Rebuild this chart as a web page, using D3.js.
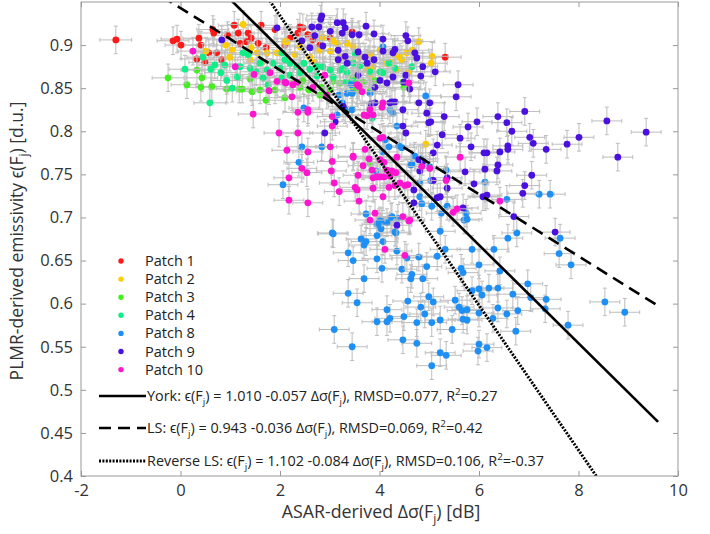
<!DOCTYPE html>
<html><head><meta charset="utf-8">
<script src="https://cdn.jsdelivr.net/npm/d3@7"></script>
<style>body{margin:0;background:#fff}</style></head>
<body><svg id="c" width="710" height="534"></svg>
<script>
const patchNames = ["Patch 1","Patch 2","Patch 3","Patch 4","Patch 8","Patch 9","Patch 10"];
const patchColors = ["#ff1a1a","#ffcc00","#44ee22","#11ee88","#1e90f5","#4a10e0","#ff14d0"];
const patchErrX = [0.32,0.32,0.32,0.32,0.3,0.3,0.3];
const patchErrY = [0.016,0.016,0.016,0.016,0.016,0.016,0.016];

const patch1 = [[-1.30,0.906],[-0.15,0.905],[-0.07,0.907],[0.01,0.900],[0.37,0.908],[0.41,0.900],[0.33,0.884],[0.65,0.918],[0.67,0.914],[1.08,0.923],[1.16,0.914],[1.36,0.914],[1.42,0.908],[1.62,0.923],[1.56,0.902],[1.32,0.904],[1.20,0.902],[0.57,0.891],[0.73,0.891],[2.40,0.921],[2.46,0.920],[2.36,0.914],[2.66,0.906],[2.56,0.912],[3.45,0.915],[5.32,0.886],[0.95,0.911],[1.72,0.897],[2.10,0.900],[2.20,0.908],[1.90,0.918],[0.83,0.883],[0.49,0.880],[2.80,0.900],[3.01,0.908]];
const patch2 = [[1.26,0.924],[0.91,0.900],[0.51,0.893],[1.04,0.894],[0.99,0.886],[1.40,0.883],[1.54,0.891],[1.74,0.891],[1.94,0.891],[2.14,0.904],[1.42,0.897],[2.86,0.909],[3.07,0.905],[3.01,0.893],[3.35,0.902],[3.47,0.898],[3.61,0.886],[3.81,0.889],[4.01,0.894],[4.31,0.889],[4.35,0.871],[4.45,0.883],[4.55,0.891],[3.75,0.871],[3.81,0.865],[2.40,0.898],[2.10,0.904],[2.60,0.886],[2.80,0.894],[3.87,0.875],[3.47,0.880],[4.15,0.879],[4.79,0.904],[4.67,0.894],[5.06,0.887],[5.04,0.879],[4.23,0.880],[4.41,0.886],[4.59,0.869],[4.93,0.785],[3.15,0.902],[2.30,0.889],[3.21,0.885],[2.70,0.880],[1.64,0.880]];
const patch3 = [[-0.25,0.862],[0.13,0.854],[0.33,0.871],[0.41,0.851],[0.43,0.862],[0.63,0.852],[0.93,0.849],[1.18,0.849],[1.24,0.849],[1.40,0.861],[1.60,0.848],[1.72,0.836],[1.90,0.848],[2.10,0.839],[2.26,0.856],[2.46,0.859],[2.58,0.848],[3.07,0.858],[3.21,0.856],[3.47,0.862],[3.57,0.856],[3.67,0.857],[4.47,0.857],[3.01,0.848],[2.40,0.851],[2.84,0.851],[3.47,0.850],[3.55,0.848],[3.91,0.859],[4.49,0.851],[3.81,0.846],[3.81,0.763],[1.44,0.846],[2.80,0.842]];
const patch4 = [[0.09,0.872],[0.45,0.886],[0.61,0.872],[0.81,0.868],[0.93,0.859],[1.04,0.850],[1.14,0.863],[1.26,0.891],[1.36,0.889],[1.60,0.879],[1.74,0.871],[1.86,0.879],[2.00,0.873],[0.69,0.877],[0.89,0.877],[0.59,0.833],[1.20,0.875],[1.40,0.873],[1.66,0.862],[2.04,0.862],[2.04,0.891],[2.10,0.883],[2.20,0.879],[2.34,0.875],[2.48,0.879],[2.60,0.872],[2.74,0.875],[2.86,0.875],[2.74,0.864],[3.21,0.871],[3.51,0.890],[3.81,0.869],[4.01,0.869],[3.45,0.858],[3.35,0.868],[4.07,0.868],[4.19,0.879],[4.65,0.875],[3.47,0.879],[3.27,0.873],[3.07,0.863],[3.33,0.857],[3.85,0.815],[1.52,0.869],[1.76,0.854],[2.20,0.865],[2.40,0.868],[3.01,0.871],[3.61,0.876],[4.31,0.873]];
const patch8 = [[2.06,0.738],[2.44,0.782],[2.38,0.764],[2.84,0.782],[2.48,0.827],[3.15,0.819],[3.35,0.844],[3.45,0.844],[3.81,0.844],[4.21,0.825],[3.45,0.825],[3.25,0.833],[4.07,0.898],[3.43,0.854],[3.19,0.842],[3.31,0.825],[4.93,0.841],[6.12,0.741],[6.12,0.724],[7.21,0.727],[7.43,0.727],[5.01,0.759],[4.63,0.761],[4.83,0.768],[4.39,0.783],[4.11,0.790],[4.35,0.806],[6.56,0.721],[5.34,0.755],[5.03,0.743],[4.81,0.724],[4.85,0.716],[5.05,0.713],[5.36,0.713],[5.74,0.705],[5.76,0.698],[5.24,0.705],[4.65,0.762],[4.71,0.771],[4.45,0.781],[4.19,0.782],[4.27,0.821],[4.15,0.694],[4.25,0.701],[4.01,0.696],[4.37,0.699],[4.07,0.776],[4.81,0.740],[3.95,0.692],[4.05,0.695],[3.73,0.704],[3.93,0.754],[4.07,0.764],[3.07,0.681],[3.37,0.659],[3.47,0.650],[3.63,0.675],[3.69,0.668],[3.73,0.672],[3.95,0.679],[4.03,0.687],[4.07,0.672],[4.33,0.682],[4.35,0.661],[3.95,0.652],[4.05,0.641],[4.45,0.640],[4.55,0.653],[4.65,0.634],[4.63,0.629],[4.79,0.654],[4.95,0.643],[4.87,0.629],[5.16,0.655],[5.22,0.684],[5.32,0.663],[5.70,0.697],[5.64,0.641],[5.68,0.636],[5.86,0.663],[6.00,0.645],[6.30,0.663],[6.42,0.638],[5.86,0.615],[6.00,0.617],[6.06,0.610],[6.20,0.618],[6.38,0.618],[6.68,0.611],[6.98,0.623],[7.04,0.607],[7.35,0.605],[6.58,0.676],[6.76,0.682],[7.61,0.658],[3.69,0.629],[3.37,0.612],[3.55,0.601],[4.57,0.603],[4.99,0.608],[5.08,0.602],[4.83,0.596],[4.91,0.588],[4.15,0.593],[4.21,0.583],[3.95,0.579],[4.15,0.579],[4.49,0.585],[4.75,0.578],[5.05,0.578],[5.22,0.581],[5.52,0.604],[5.60,0.596],[5.66,0.592],[5.76,0.593],[5.68,0.582],[5.76,0.581],[6.00,0.589],[6.28,0.583],[6.38,0.595],[6.56,0.588],[6.78,0.592],[3.09,0.570],[3.45,0.550],[4.47,0.558],[4.75,0.554],[5.46,0.570],[6.00,0.553],[6.16,0.549],[5.98,0.545],[5.22,0.543],[5.34,0.540],[5.05,0.528],[6.74,0.568],[7.79,0.575],[4.23,0.700],[3.05,0.682],[7.63,0.676],[7.85,0.645],[7.33,0.594],[8.53,0.602],[8.93,0.590],[3.99,0.694],[4.31,0.683]];
const patch9 = [[2.84,0.934],[2.82,0.930],[2.64,0.921],[2.78,0.921],[3.01,0.916],[3.15,0.926],[3.27,0.926],[3.31,0.920],[3.25,0.914],[3.45,0.912],[3.59,0.912],[3.73,0.922],[3.89,0.913],[4.07,0.907],[4.53,0.911],[4.57,0.905],[2.86,0.899],[3.17,0.894],[3.17,0.883],[3.35,0.879],[3.31,0.887],[3.57,0.892],[3.71,0.886],[3.75,0.879],[3.89,0.883],[4.07,0.893],[4.27,0.891],[4.31,0.895],[4.71,0.891],[4.75,0.885],[3.57,0.865],[4.01,0.859],[4.15,0.856],[4.27,0.863],[2.44,0.905],[2.60,0.897],[2.70,0.911],[3.91,0.851],[4.53,0.865],[4.49,0.857],[4.25,0.834],[4.31,0.834],[4.47,0.825],[0.83,0.906],[1.94,0.920],[4.87,0.875],[5.12,0.869],[5.58,0.854],[5.54,0.840],[4.83,0.864],[4.61,0.849],[4.21,0.833],[4.79,0.833],[4.95,0.821],[5.30,0.817],[4.99,0.810],[4.47,0.806],[4.53,0.798],[5.78,0.805],[5.96,0.811],[6.38,0.817],[6.56,0.810],[6.92,0.823],[6.66,0.800],[7.02,0.793],[7.09,0.786],[8.01,0.793],[7.77,0.785],[7.35,0.779],[6.58,0.783],[6.58,0.779],[6.42,0.776],[6.16,0.775],[6.10,0.775],[5.84,0.782],[5.62,0.792],[5.26,0.796],[5.16,0.784],[5.08,0.775],[8.57,0.812],[9.36,0.799],[8.79,0.770],[7.06,0.749],[6.92,0.737],[6.38,0.761],[6.12,0.756],[5.72,0.753],[6.88,0.728],[6.08,0.724],[5.36,0.734],[5.08,0.743],[4.81,0.754],[5.90,0.739],[5.03,0.811],[5.01,0.833],[6.36,0.754],[6.16,0.726],[6.70,0.701],[5.36,0.746],[4.69,0.732],[4.87,0.765],[5.16,0.723],[5.22,0.724],[4.69,0.717],[5.68,0.711],[4.79,0.767],[2.90,0.798],[3.11,0.811],[3.27,0.829],[3.83,0.832],[3.91,0.833],[4.35,0.691],[7.53,0.683]];
const patch10 = [[0.25,0.893],[1.10,0.875],[1.48,0.866],[1.80,0.868],[1.94,0.858],[1.78,0.847],[2.12,0.856],[1.46,0.820],[2.10,0.857],[2.26,0.854],[2.66,0.851],[2.34,0.857],[2.90,0.865],[3.55,0.854],[3.59,0.852],[2.24,0.840],[2.56,0.825],[2.36,0.822],[2.94,0.842],[3.05,0.817],[3.81,0.825],[3.75,0.818],[3.65,0.846],[4.59,0.856],[4.05,0.828],[4.01,0.792],[4.35,0.770],[5.62,0.770],[5.34,0.743],[5.01,0.757],[4.09,0.764],[3.01,0.782],[3.47,0.770],[3.85,0.755],[4.57,0.738],[4.33,0.752],[4.85,0.759],[6.42,0.719],[5.56,0.710],[5.48,0.706],[4.47,0.701],[4.61,0.697],[4.01,0.767],[4.15,0.755],[4.25,0.754],[4.21,0.748],[4.41,0.740],[4.51,0.737],[4.31,0.737],[4.07,0.724],[4.01,0.747],[4.07,0.793],[4.07,0.833],[1.98,0.798],[2.36,0.798],[2.14,0.778],[2.56,0.776],[2.44,0.757],[2.54,0.752],[2.18,0.746],[2.18,0.720],[2.56,0.717],[3.03,0.754],[3.05,0.765],[3.09,0.740],[3.19,0.730],[3.47,0.771],[3.67,0.760],[3.57,0.749],[3.51,0.735],[3.55,0.732],[3.59,0.719],[3.79,0.768],[3.87,0.746],[3.95,0.747],[3.87,0.734],[4.09,0.747],[3.87,0.819],[3.69,0.819],[3.71,0.779],[3.05,0.806],[2.56,0.822],[3.81,0.697],[4.19,0.735],[3.91,0.705],[4.11,0.663],[4.59,0.696],[4.51,0.656]];
const patchData = [patch1, patch2, patch3, patch4, patch8, patch9, patch10];

const xTicks = [-2,0,2,4,6,8,10];
const yTicks = [0.4,0.45,0.5,0.55,0.6,0.65,0.7,0.75,0.8,0.85,0.9];
const xDomain = [-2,10];
const yDomain = [0.4,0.95];

const fitNames = ["York","LS","Reverse LS"];
const fitIntercepts = [1.010,0.943,1.102];
const fitSlopes = [-0.057,-0.036,-0.084];
const fitXEnds = [9.6,9.6,8.5];
const fitLabels = [
  [["York: ϵ(F",0],["j",-1],[") = 1.010 -0.057 Δσ(F",0],["j",-1],["), RMSD=0.077, R",0],["2",1],["=0.27",0]],
  [["LS: ϵ(F",0],["j",-1],[") = 0.943 -0.036 Δσ(F",0],["j",-1],["), RMSD=0.069, R",0],["2",1],["=0.42",0]],
  [["Reverse LS: ϵ(F",0],["j",-1],[") = 1.102 -0.084 Δσ(F",0],["j",-1],["), RMSD=0.106, R",0],["2",1],["=-0.37",0]]
];

const FONT = "'Open Sans', sans-serif";
const TXT = "#333";
const L = 81, R = 678, T = 2, B = 476;
const svg = d3.select("#c");
const x = d3.scaleLinear().domain(xDomain).range([L,R]);
const y = d3.scaleLinear().domain(yDomain).range([B,T]);

svg.append("defs").append("clipPath").attr("id","clip")
  .append("rect").attr("x",L).attr("y",T).attr("width",R-L).attr("height",B-T);

const plot = svg.append("g").attr("clip-path","url(#clip)");

// points with error bars
patchData.forEach((pts,i)=>{
  const g = plot.append("g");
  const ex = patchErrX[i], ey = patchErrY[i];
  const eb = g.append("g").attr("stroke","#bdbdbd").attr("stroke-width",1).attr("fill","none");
  pts.forEach(d=>{
    const cx = x(d[0]), cy = y(d[1]);
    const x0 = x(d[0]-ex), x1 = x(d[0]+ex), y0 = y(d[1]-ey), y1 = y(d[1]+ey);
    eb.append("path").attr("d",
      `M${x0},${cy}H${x1}M${x0},${cy-2}V${cy+2}M${x1},${cy-2}V${cy+2}`+
      `M${cx},${y0}V${y1}M${cx-2},${y0}H${cx+2}M${cx-2},${y1}H${cx+2}`);
  });
  g.append("g").selectAll("circle").data(pts).join("circle")
    .attr("cx",d=>x(d[0])).attr("cy",d=>y(d[1])).attr("r",3.4)
    .attr("fill",patchColors[i]);
});

// fit lines
const dashes = [null,"12,7","2,1.4"];
const widths = [2.6,2.6,3];
fitNames.forEach((n,i)=>{
  const xs = [xDomain[0], fitXEnds[i]];
  plot.append("line")
    .attr("x1",x(xs[0])).attr("y1",y(fitIntercepts[i]+fitSlopes[i]*xs[0]))
    .attr("x2",x(xs[1])).attr("y2",y(fitIntercepts[i]+fitSlopes[i]*xs[1]))
    .attr("stroke","#000").attr("stroke-width",widths[i])
    .attr("stroke-dasharray",dashes[i]);
});

// axes
function styleAxis(g){
  g.select(".domain").remove();
  g.selectAll(".tick line").attr("stroke","#999");
  g.selectAll(".tick text").attr("fill",TXT).attr("font-family",FONT).attr("font-size",16.5);
}
svg.append("g").attr("transform",`translate(0,${B})`)
  .call(d3.axisBottom(x).tickValues(xTicks).tickFormat(d=>String(d)).tickSizeInner(-5).tickSizeOuter(0).tickPadding(8))
  .call(styleAxis);
svg.append("g").attr("transform",`translate(0,${T})`)
  .call(d3.axisTop(x).tickValues(xTicks).tickFormat("").tickSizeInner(-5).tickSizeOuter(0))
  .call(styleAxis);
svg.append("g").attr("transform",`translate(${L},0)`)
  .call(d3.axisLeft(y).tickValues(yTicks).tickFormat(d=>String(+d.toFixed(2))).tickSizeInner(-5).tickSizeOuter(0).tickPadding(8))
  .call(styleAxis);
svg.append("g").attr("transform",`translate(${R},0)`)
  .call(d3.axisRight(y).tickValues(yTicks).tickFormat("").tickSizeInner(-5).tickSizeOuter(0))
  .call(styleAxis);

svg.append("rect").attr("x",L).attr("y",T).attr("width",R-L).attr("height",B-T)
  .attr("fill","none").attr("stroke","#999").attr("stroke-width",1);

// rich text helper
function rich(t, parts, fs){
  let shift = 0;
  parts.forEach(p=>{
    const target = p[1]===-1 ? fs*0.3 : (p[1]===1 ? -fs*0.4 : 0);
    t.append("tspan").attr("dy",target-shift)
      .attr("font-size", p[1]===0 ? fs : fs*0.68).text(p[0]);
    shift = target;
  });
}

// legend: patches
const legX = 121, legY0 = 261, legDY = 18.1;
patchNames.forEach((n,i)=>{
  svg.append("circle").attr("cx",legX).attr("cy",legY0+i*legDY).attr("r",2.7).attr("fill",patchColors[i]);
  svg.append("text").attr("x",145).attr("y",legY0+i*legDY).attr("dy","0.35em")
    .attr("font-family",FONT).attr("font-size",14.5).attr("fill","#222").text(n);
});
// legend: lines
const lineY = [396,428,461];
fitNames.forEach((n,i)=>{
  svg.append("line").attr("x1",99).attr("x2",146).attr("y1",lineY[i]).attr("y2",lineY[i])
    .attr("stroke","#000").attr("stroke-width",widths[i]).attr("stroke-dasharray",dashes[i]);
  const t = svg.append("text").attr("x",147).attr("y",lineY[i]+5)
    .attr("font-family",FONT).attr("font-size",14.4).attr("fill","#222");
  rich(t, fitLabels[i], 14.4);
});

// axis titles
const xt = svg.append("text").attr("x",381).attr("y",518).attr("text-anchor","middle")
  .attr("font-family",FONT).attr("font-size",17.8).attr("fill",TXT);
rich(xt, [["ASAR-derived Δσ(F",0],["j",-1],[") [dB]",0]], 17.8);
const yt = svg.append("text").attr("transform","translate(23,241) rotate(-90)").attr("text-anchor","middle")
  .attr("font-family",FONT).attr("font-size",17.5).attr("fill",TXT);
rich(yt, [["PLMR-derived emissivity ϵ(F",0],["j",-1],[") [d.u.]",0]], 17.5);
</script></body></html>
